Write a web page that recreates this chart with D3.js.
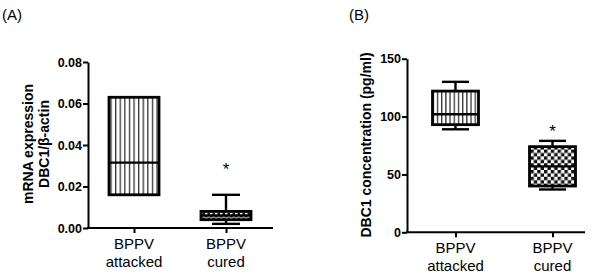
<!DOCTYPE html>
<html><head><meta charset="utf-8">
<script src="https://cdn.jsdelivr.net/npm/d3@7"></script>
<style>body{margin:0;background:#fff}svg{display:block}</style>
</head><body>
<svg id="c" width="600" height="277"></svg>
<script>
const categories = ["BPPV attacked", "BPPV cured"];
const catLines = [["BPPV","attacked"],["BPPV","cured"]];
// Panel A: mRNA expression DBC1/β-actin  [min, q1, median, q3, max]
const mrnaAttacked = [0.016, 0.016, 0.0315, 0.063, 0.063];
const mrnaCured = [0.002, 0.004, 0.006, 0.008, 0.016];
const mrnaTicks = [0, 0.02, 0.04, 0.06, 0.08];
const mrnaStar = 0.030;
// Panel B: DBC1 concentration (pg/ml)
const concAttacked = [89, 93, 102, 122, 130];
const concCured = [37, 40, 57, 74, 79];
const concTicks = [0, 50, 100, 150];
const concStar = 90;

const svg = d3.select("#c");
const defs = svg.append("defs");
function vstripe(id, w){
  const p = defs.append("pattern").attr("id",id).attr("patternUnits","userSpaceOnUse")
    .attr("width",w).attr("height",10);
  p.append("rect").attr("width",w).attr("height",10).attr("fill","#fff");
  p.append("rect").attr("x",0).attr("width",1.3).attr("height",10).attr("fill","#333");
}
function checker(id, s){
  const p = defs.append("pattern").attr("id",id).attr("patternUnits","userSpaceOnUse")
    .attr("width",2*s).attr("height",2*s);
  p.append("rect").attr("width",2*s).attr("height",2*s).attr("fill","#fff");
  p.append("rect").attr("width",s).attr("height",s).attr("fill","#111");
  p.append("rect").attr("x",s).attr("y",s).attr("width",s).attr("height",s).attr("fill","#111");
}
vstripe("vsA", 4.6);
vstripe("vsB", 4.2);
checker("ckA", 2.5);
checker("ckB", 3.4);

const FONT = "'Liberation Sans', Arial, sans-serif";

function panel(opts){
  const g = svg.append("g");
  const x = d3.scalePoint().domain(categories).range(opts.xr).padding(0.5);
  const y = d3.scaleLinear().domain(opts.ydom).range(opts.yr);
  // y axis
  const ya = g.append("g").attr("transform",`translate(${opts.xr[0]},0)`)
    .call(d3.axisLeft(y).tickValues(opts.ticks).tickFormat(opts.fmt).tickSize(5).tickSizeOuter(0));
  ya.select(".domain").attr("stroke","#000").attr("stroke-width",2);
  ya.selectAll(".tick line").attr("stroke-width",2);
  ya.selectAll(".tick text").attr("font-family",FONT).attr("font-weight","bold")
    .attr("font-size","12.5px").attr("fill","#000").attr("x",-6);
  // x axis
  const xa = g.append("g").attr("transform",`translate(0,${opts.yr[0]})`)
    .call(d3.axisBottom(x).tickSize(5).tickFormat(""));
  xa.select(".domain").remove();
  xa.selectAll(".tick line").attr("stroke-width",2);
  g.append("line").attr("x1",opts.xr[0]-1).attr("x2",opts.xEnd)
    .attr("y1",opts.yr[0]).attr("y2",opts.yr[0]).attr("stroke","#000").attr("stroke-width",2);
  categories.forEach((c,i)=>{
    const t = g.append("text").attr("font-family",FONT).attr("font-size","15px")
      .attr("text-anchor","middle").attr("fill","#000");
    t.append("tspan").attr("x",x(c)).attr("y",opts.yr[0]+21).text(catLines[i][0]);
    t.append("tspan").attr("x",x(c)).attr("y",opts.yr[0]+39).text(catLines[i][1]);
  });
  // boxes
  opts.data.forEach((d,i)=>{
    const cx = x(categories[i]);
    const bw = opts.bw, cw = opts.cw;
    const sw = 2.4;
    g.append("line").attr("x1",cx).attr("x2",cx).attr("y1",y(d[4])).attr("y2",y(d[3]))
      .attr("stroke","#000").attr("stroke-width",sw);
    g.append("line").attr("x1",cx).attr("x2",cx).attr("y1",y(d[1])).attr("y2",y(d[0]))
      .attr("stroke","#000").attr("stroke-width",sw);
    if (d[4] !== d[3]) g.append("line").attr("x1",cx-cw/2).attr("x2",cx+cw/2).attr("y1",y(d[4])).attr("y2",y(d[4]))
      .attr("stroke","#000").attr("stroke-width",sw);
    if (d[0] !== d[1]) g.append("line").attr("x1",cx-cw/2).attr("x2",cx+cw/2).attr("y1",y(d[0])).attr("y2",y(d[0]))
      .attr("stroke","#000").attr("stroke-width",sw);
    g.append("rect").attr("x",cx-bw/2).attr("width",bw)
      .attr("y",y(d[3])).attr("height",y(d[1])-y(d[3]))
      .attr("fill",`url(#${opts.fills[i]})`).attr("stroke","#000").attr("stroke-width",sw+0.4);
    g.append("line").attr("x1",cx-bw/2).attr("x2",cx+bw/2).attr("y1",y(d[2])).attr("y2",y(d[2]))
      .attr("stroke","#000").attr("stroke-width",sw);
  });
  // asterisk
  g.append("text").attr("x",x(categories[1])).attr("y",y(opts.star)+9)
    .attr("text-anchor","middle").attr("font-family",FONT).attr("font-size","17px").text("*");
  // y title
  const tt = g.append("text").attr("transform",`translate(${opts.titleX},${opts.titleY}) rotate(-90)`)
    .attr("font-family",FONT).attr("font-weight","bold").attr("font-size","14px")
    .attr("text-anchor","middle").attr("fill","#000");
  opts.title.forEach((s,k)=>{
    tt.append("tspan").attr("x",0).attr("y",k*16).text(s);
  });
  // panel label
  svg.append("text").attr("x",opts.labX).attr("y",20).attr("font-family",FONT)
    .attr("font-size","15px").text(opts.label);
}

panel({xr:[88,272], xEnd:273, yr:[228,62], ydom:[0,0.08], ticks:mrnaTicks,
  fmt:d3.format(".2f"), data:[mrnaAttacked, mrnaCured], fills:["vsA","ckA"],
  bw:50, cw:28, star:mrnaStar, title:["mRNA expression","DBC1/β-actin"],
  titleX:33, titleY:144, label:"(A)", labX:2});
panel({xr:[407,601], xEnd:585, yr:[232.3,58.7], ydom:[0,150], ticks:concTicks,
  fmt:d3.format("d"), data:[concAttacked, concCured], fills:["vsB","ckB"],
  bw:46, cw:27, star:concStar, title:["DBC1 concentration (pg/ml)"],
  titleX:371, titleY:145, label:"(B)", labX:349});
</script>
</body></html>
